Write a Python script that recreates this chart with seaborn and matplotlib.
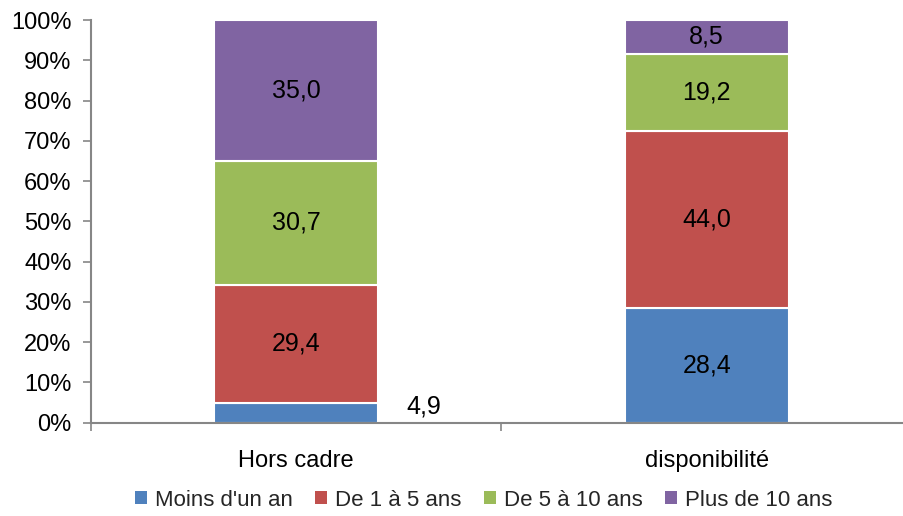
import numpy as np
import matplotlib
matplotlib.use("Agg")
import matplotlib.pyplot as plt
import seaborn as sns
from matplotlib.patches import Patch
from matplotlib.ticker import FixedLocator

categories = ["Hors cadre", "disponibilité"]
series_names = ["Moins d'un an", "De 1 à 5 ans", "De 5 à 10 ans", "Plus de 10 ans"]
moins_un_an = [4.9, 28.4]
de_1_a_5 = [29.4, 44.0]
de_5_a_10 = [30.7, 19.2]
plus_de_10 = [35.0, 8.5]
colors = ["#4F81BD", "#C0504D", "#9BBB59", "#8064A2"]

sns.set_theme(style="white")
plt.rcParams["font.family"] = ["Liberation Sans", "DejaVu Sans"]

fig = plt.figure(figsize=(9.04, 5.16), dpi=100)
ax = fig.add_axes([91 / 904, 93.3 / 516, 821 / 904, 402.7 / 516])

series = [moins_un_an, de_1_a_5, de_5_a_10, plus_de_10]
bottom = np.zeros(len(categories))
for name, vals, col in zip(series_names, series, colors):
    sns.barplot(x=categories, y=vals, bottom=bottom, color=col, saturation=1,
                width=0.4, edgecolor="white", linewidth=1.5, ax=ax)
    for i, v in enumerate(vals):
        txt = f"{v:.1f}".replace(".", ",")
        if v < 6:
            ax.text(i + 0.31, bottom[i] + 3.9, txt, ha="center", va="center",
                    fontsize=18, color="black")
        else:
            ax.text(i, bottom[i] + v / 2, txt, ha="center", va="center",
                    fontsize=18, color="black")
    bottom = bottom + np.array(vals)

ax.set_xlim(-0.5, 1.5)
ax.set_ylim(0, 100)
ax.set_yticks(np.arange(0, 101, 10))
ax.set_yticklabels([f"{t}%" for t in range(0, 101, 10)])
ax.set_xlabel("")
ax.set_ylabel("")

for s in ["top", "right"]:
    ax.spines[s].set_visible(False)
for s in ["left", "bottom"]:
    ax.spines[s].set_color("#868686")
    ax.spines[s].set_linewidth(1.5)

ax.tick_params(axis="y", left=True, length=6, width=1.2, color="#868686",
               direction="out", labelsize=17, pad=8, labelcolor="black")
ax.tick_params(axis="x", which="major", length=0, labelsize=17, pad=20,
               labelcolor="black")
ax.xaxis.set_minor_locator(FixedLocator([-0.5, 0.5, 1.5]))
ax.tick_params(axis="x", which="minor", bottom=True, length=6, width=1.2,
               color="#868686", direction="out")

handles = [Patch(facecolor=c, edgecolor="none") for c in colors]
fig.legend(handles, series_names, loc="center", bbox_to_anchor=(0.535, 0.031),
           ncol=4, frameon=False, fontsize=16, handlelength=0.55,
           handleheight=0.55, handletextpad=0.35, columnspacing=1.0)

fig.savefig("out.png", dpi=100)
